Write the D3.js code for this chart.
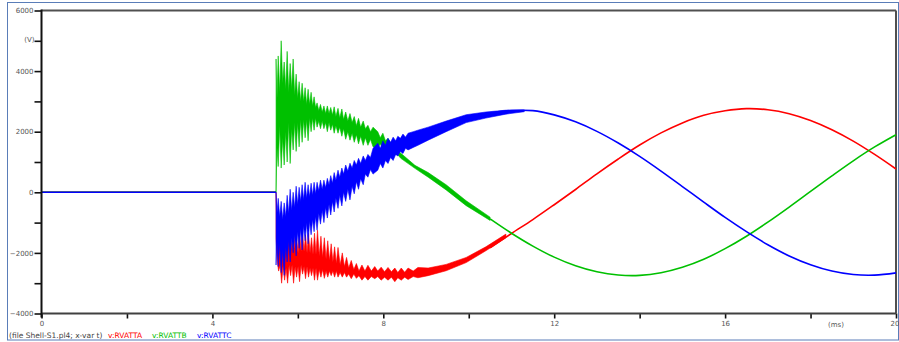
<!DOCTYPE html>
<html><head><meta charset="utf-8">
<script src="https://cdn.jsdelivr.net/npm/d3@7/dist/d3.min.js"></script>
<style>body{margin:0;background:#fff} text{font-family:"DejaVu Sans",Verdana,sans-serif}</style>
</head><body><svg id="c" width="899" height="342"></svg>
<script>
// ---- data ----
const xMajor = [0, 4, 8, 12, 16, 20];
const xMinor = [2, 6, 10, 14, 18];
const yMajor = [-4000, -2000, 0, 2000, 4000, 6000];
const yMinor = [-3000, -1000, 1000, 3000, 5000];
const legendNames = ["v:RVATTA", "v:RVATTB", "v:RVATTC"];
const fileLabel = "(file Shell-S1.pl4; x-var t)";
const colors = ["#ff0000", "#00c000", "#0000ff"];

// before switching: all phases at zero
const preT = [0, 5.49];
const preV = [0, 0];

// oscillating band (t ms, upper V, lower V)
const bandA = [
  [5.49, 0, -1500], [5.52, -1700, -2300], [5.55, -1200, -2600], [5.585, -1800, -2400],
  [5.62, -1500, -3000], [5.655, -1900, -2400], [5.69, -1300, -2900], [5.725, -1900, -2500],
  [5.76, -1150, -3000], [5.795, -1800, -2400], [5.83, -1400, -2750], [5.865, -1900, -2400],
  [5.90, -1200, -3000], [5.935, -1900, -2450], [5.97, -1500, -2800], [6.005, -2000, -2450],
  [6.04, -1300, -2950], [6.075, -1950, -2400], [6.11, -1350, -2700], [6.145, -1950, -2450],
  [6.18, -1400, -2850], [6.215, -2000, -2450], [6.25, -1350, -2800], [6.285, -2000, -2500],
  [6.32, -1500, -2750], [6.355, -2050, -2500], [6.39, -1350, -2900], [6.425, -2050, -2500],
  [6.46, -1250, -2900], [6.50, -2100, -2550], [6.54, -1450, -2800], [6.58, -2150, -2550],
  [6.62, -1500, -2840], [6.66, -2200, -2600], [6.70, -1600, -2800], [6.74, -2250, -2600],
  [6.78, -1700, -2750], [6.82, -2300, -2600], [6.86, -1800, -2800], [6.90, -2350, -2600],
  [6.94, -1820, -2800], [6.99, -2400, -2650], [7.04, -2000, -2800], [7.09, -2450, -2650],
  [7.14, -2150, -2800], [7.19, -2500, -2700], [7.25, -2250, -2850], [7.31, -2550, -2700],
  [7.37, -2350, -2840], [7.43, -2600, -2750], [7.50, -2400, -2900], [7.57, -2600, -2780],
  [7.64, -2410, -2900], [7.72, -2600, -2780], [7.80, -2450, -2850], [7.87, -2600, -2780],
  [7.95, -2470, -2900], [8.03, -2620, -2800], [8.11, -2480, -2900], [8.19, -2620, -2800],
  [8.27, -2500, -2950], [8.34, -2650, -2820], [8.42, -2500, -2900], [8.50, -2640, -2800],
  [8.58, -2500, -2880], [8.70, -2600, -2780], [8.81, -2480, -2820], [9.05, -2500, -2750],
  [9.47, -2380, -2590], [9.94, -2150, -2320], [10.40, -1800, -1930], [10.87, -1380, -1500]
];
const bandB = [
  [5.49, 4400, 0], [5.51, 3000, 1500], [5.54, 4500, 850], [5.575, 3300, 2200],
  [5.61, 5000, 800], [5.645, 3600, 1800], [5.68, 4300, 900], [5.715, 3400, 2000],
  [5.75, 4650, 1000], [5.785, 3300, 2300], [5.82, 4250, 950], [5.855, 3400, 2100],
  [5.89, 4400, 1400], [5.925, 3200, 2300], [5.96, 3900, 1350], [5.995, 3100, 2300],
  [6.03, 3650, 1500], [6.065, 3000, 2400], [6.10, 3600, 1650], [6.135, 3000, 2400],
  [6.17, 3450, 1800], [6.205, 2900, 2400], [6.24, 3400, 1700], [6.275, 2900, 2450],
  [6.31, 3300, 2000], [6.345, 2850, 2450], [6.38, 3150, 2050], [6.415, 2800, 2450],
  [6.45, 2950, 2150], [6.49, 2700, 2350], [6.53, 2900, 2100], [6.57, 2650, 2350],
  [6.61, 2850, 2100], [6.65, 2600, 2300], [6.69, 2850, 2000], [6.73, 2600, 2300],
  [6.77, 2800, 2050], [6.81, 2550, 2250], [6.85, 2820, 1950], [6.89, 2500, 2200],
  [6.94, 2770, 1950], [6.98, 2450, 2150], [7.03, 2750, 1850], [7.07, 2400, 2100],
  [7.12, 2650, 1750], [7.17, 2350, 2000], [7.22, 2600, 1720], [7.27, 2300, 1950],
  [7.32, 2500, 1650], [7.37, 2200, 1900], [7.42, 2440, 1600], [7.47, 2150, 1850],
  [7.53, 2350, 1550], [7.58, 2100, 1800], [7.64, 2210, 1550], [7.70, 2000, 1750],
  [7.76, 2150, 1500], [7.87, 2000, 1450], [7.93, 1800, 1600], [7.99, 1950, 1420],
  [8.05, 1700, 1500], [8.11, 1780, 1390], [8.18, 1600, 1400], [8.26, 1550, 1250],
  [8.33, 1400, 1250], [8.41, 1290, 1120], [8.74, 890, 790], [9.05, 650, 500],
  [9.47, 250, 80], [9.94, -280, -440], [10.50, -820, -930]
];
const bandC = [
  [5.49, 0, -2400], [5.51, -700, -1600], [5.54, -200, -2450], [5.575, -800, -1700],
  [5.61, -300, -2650], [5.645, -900, -1900], [5.68, -350, -2740], [5.715, -800, -1800],
  [5.75, -100, -2300], [5.785, -700, -1600], [5.82, 100, -2300], [5.855, -600, -1500],
  [5.89, 0, -2000], [5.925, -500, -1400], [5.96, 200, -2100], [5.995, -400, -1300],
  [6.03, 165, -1850], [6.065, -300, -1200], [6.10, 250, -1900], [6.135, -250, -1100],
  [6.17, 330, -1600], [6.205, -200, -1000], [6.24, 250, -1700], [6.275, -150, -950],
  [6.31, 300, -1400], [6.345, -100, -900], [6.38, 330, -1300], [6.415, -50, -800],
  [6.45, 330, -1250], [6.49, 50, -700], [6.53, 400, -1050], [6.57, 100, -600],
  [6.61, 400, -1000], [6.65, 150, -500], [6.69, 460, -850], [6.73, 250, -400],
  [6.77, 550, -750], [6.81, 300, -300], [6.85, 650, -650], [6.89, 400, -200],
  [6.94, 730, -530], [6.98, 500, -100], [7.03, 800, -450], [7.07, 600, 0],
  [7.12, 900, -300], [7.17, 700, 100], [7.22, 960, -250], [7.27, 800, 200],
  [7.32, 1050, -50], [7.37, 900, 350], [7.42, 1120, 100], [7.47, 950, 450],
  [7.53, 1200, 250], [7.58, 1050, 600], [7.64, 1250, 500], [7.70, 1150, 750],
  [7.76, 1450, 600], [7.87, 1620, 730], [7.93, 1450, 950], [7.99, 1700, 800],
  [8.05, 1550, 1050], [8.11, 1780, 950], [8.17, 1650, 1150], [8.23, 1820, 1050],
  [8.29, 1700, 1250], [8.34, 1850, 1200], [8.40, 1780, 1350], [8.46, 1920, 1280],
  [8.52, 1820, 1450], [8.58, 1950, 1400], [8.70, 2000, 1480], [8.81, 2050, 1550],
  [9.05, 2150, 1720], [9.47, 2350, 2000], [9.94, 2560, 2300], [10.40, 2650, 2450],
  [10.87, 2710, 2580], [11.30, 2720, 2660]
];

// settled sinusoidal part
const lineT = [10.5, 11, 11.5, 12, 12.5, 13, 13.5, 14, 14.5, 15, 15.5, 16, 16.5, 17, 17.5, 18, 18.5, 19, 19.5, 20];
const lineA = [-1830, -1360, -900, -410, 93, 610, 1100, 1560, 1960, 2290, 2540, 2690, 2760, 2725, 2595, 2370, 2065, 1690, 1250, 770];
const lineB = [-877, -1350, -1775, -2140, -2425, -2625, -2730, -2743, -2655, -2475, -2210, -1860, -1450, -985, -487, 29, 543, 1040, 1497, 1900];
const lineC = [2620, 2700, 2695, 2555, 2325, 2010, 1625, 1185, 700, 190, -325, -830, -1300, -1730, -2100, -2390, -2600, -2715, -2735, -2660];

// ---- drawing ----
const svg = d3.select("#c");
const x = d3.scaleLinear().domain([0, 20]).range([41.5, 896]);
const y = d3.scaleLinear().domain([-4000, 6000]).range([313.5, 10.5]);

// outer border
svg.append("rect").attr("x", 7.5).attr("y", 2.5).attr("width", 891).attr("height", 337.5)
  .attr("fill", "#fff").attr("stroke", "#5a7db8").attr("stroke-width", 1);

// frame top/right
svg.append("line").attr("x1", x(0)).attr("x2", x(20)).attr("y1", y(6000)).attr("y2", y(6000))
  .attr("stroke", "#505050").attr("stroke-width", 2);
svg.append("line").attr("x1", x(20)).attr("x2", x(20)).attr("y1", y(6000)).attr("y2", y(-4000))
  .attr("stroke", "#505050").attr("stroke-width", 2);

const bands = [bandA, bandB, bandC];
const lines = [lineA, lineB, lineC];

const area = d3.area().x(d => x(d[0])).y0(d => y(d[2])).y1(d => y(d[1]));
const line = d3.line().x(d => x(d[0])).y(d => y(d[1])).curve(d3.curveCatmullRom);
const lineLin = d3.line().x(d => x(d[0])).y(d => y(d[1]));

const plot = svg.append("g");
for (let s = 0; s < 3; s++) {
  const g = plot.append("g");
  g.append("path").datum(preT.map((t, i) => [t, preV[i]])).attr("d", lineLin)
    .attr("fill", "none").attr("stroke", colors[s]).attr("stroke-width", 1.5);
  g.append("path").datum(bands[s]).attr("d", area)
    .attr("fill", colors[s]).attr("stroke", colors[s]).attr("stroke-width", 0.6).attr("stroke-linejoin", "round");
  g.append("path").datum(lineT.map((t, i) => [t, lines[s][i]])).attr("d", line)
    .attr("fill", "none").attr("stroke", colors[s]).attr("stroke-width", 1.6);
}

// axes
const yAx = svg.append("g").attr("transform", `translate(${x(0)},0)`)
  .call(d3.axisLeft(y).tickValues(yMajor).tickSize(7).tickPadding(1).tickFormat(d3.format("d")));
const yAxMinor = svg.append("g").attr("transform", `translate(${x(0)},0)`)
  .call(d3.axisLeft(y).tickValues(yMinor).tickSize(7).tickFormat(""));
const xAx = svg.append("g").attr("transform", `translate(0,${y(-4000)})`)
  .call(d3.axisBottom(x).tickValues(xMajor).tickSize(5).tickPadding(3).tickFormat(d3.format("d")));
const xAxMinor = svg.append("g").attr("transform", `translate(0,${y(-4000)})`)
  .call(d3.axisBottom(x).tickValues(xMinor).tickSize(5).tickFormat(""));

[yAx, yAxMinor, xAx, xAxMinor].forEach(a => {
  a.select(".domain").remove();
  a.selectAll(".tick line").attr("stroke", "#111").attr("stroke-width", 1.6);
  a.selectAll(".tick text").attr("fill", "#555").style("font-size", "7px")
    .style("font-family", '"DejaVu Sans", Verdana, sans-serif');
});
// keep the last x label inside the window
xAx.selectAll(".tick text").filter(d => d === 20).attr("text-anchor", "end").attr("x", 899 - x(20));

// axis lines
svg.append("line").attr("x1", x(0)).attr("x2", x(20)).attr("y1", y(-4000)).attr("y2", y(-4000))
  .attr("stroke", "#404040").attr("stroke-width", 2);
svg.append("line").attr("x1", x(0)).attr("x2", x(0)).attr("y1", y(6000) - 1).attr("y2", y(-4000) + 4)
  .attr("stroke", "#111").attr("stroke-width", 2);

// units
svg.append("text").attr("x", x(0) - 7).attr("y", y(5000) + 1).attr("text-anchor", "end")
  .attr("fill", "#555").style("font-size", "7px").text("(V)");
svg.append("text").attr("x", 836).attr("y", 327).attr("text-anchor", "middle")
  .attr("fill", "#555").style("font-size", "7px").text("(ms)");

// legend line
const leg = svg.append("g").style("font-size", "7.5px");
leg.append("text").attr("x", 9).attr("y", 338).attr("fill", "#444").text(fileLabel);
const legX = [108, 152, 197];
legendNames.forEach((n, i) => {
  leg.append("text").attr("x", legX[i]).attr("y", 338).attr("fill", colors[i]).text(n);
});
</script></body></html>
